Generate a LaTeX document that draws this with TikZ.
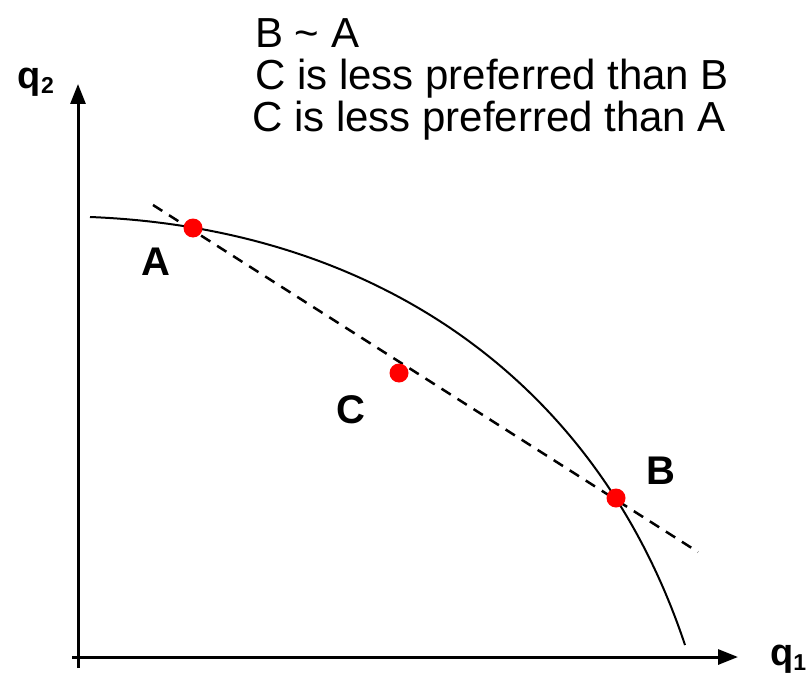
\documentclass[tikz,border=0pt]{standalone}
\usepackage{fontspec}
\setmainfont{Liberation Sans}
\usetikzlibrary{arrows.meta}
\begin{document}
\begin{tikzpicture}[x=1pt,y=-1pt,
  axis/.style={line width=3pt,-{Triangle[length=20pt,width=15pt]}},
  dot/.style={circle,fill=red,inner sep=0pt,minimum size=19pt},
  lbl/.style={font=\fontsize{40}{44}\selectfont\bfseries,inner sep=0pt},
  qlbl/.style={font=\fontsize{38}{42}\selectfont\bfseries,inner sep=0pt},
  txt/.style={font=\fontsize{42}{48}\selectfont,inner sep=0pt,anchor=base west},
  chord/.style={line width=2.5pt,dash pattern=on 11pt off 8pt},
  frontier/.style={line width=2pt}]
\useasboundingbox (0,0) rectangle (810,679);
% axes
\coordinate (yb) at (78,668);
\coordinate (yt) at (78,84);
\coordinate (xl) at (72,657);
\coordinate (xr) at (738,657);
\draw[axis] (yb) -- (yt);
\draw[axis] (xl) -- (xr);
\node[qlbl] (q2) at (36,82) {q\raisebox{-0.25ex}{\fontsize{23}{24}\selectfont 2}};
\node[qlbl,anchor=west] (q1) at (770,659) {q\raisebox{-0.25ex}{\fontsize{23}{24}\selectfont 1}};
% frontier curve
\coordinate (cs) at (90,217);
\coordinate (ce) at (685,645);
\draw[frontier] (cs) .. controls (370,228) and (595,375) .. (ce);
% dashed chord
\coordinate (ds) at (153,205);
\coordinate (de) at (698,552);
\draw[chord] (ds) -- (de);
% points
\node[dot] (A) at (193,228) {};
\node[dot] (B) at (616,498) {};
\node[dot] (C) at (399,373) {};
\node[lbl] (LA) at (156,262) {A};
\node[lbl] (LC) at (351,410) {C};
\node[lbl] (LB) at (661,471) {B};
% texts
\node[txt] (t1) at (255,48) {B \textasciitilde\ A};
\node[txt] (t2) at (255,90) {C is less preferred than B};
\node[txt] (t3) at (252,132) {C is less preferred than A};
\end{tikzpicture}
\end{document}
